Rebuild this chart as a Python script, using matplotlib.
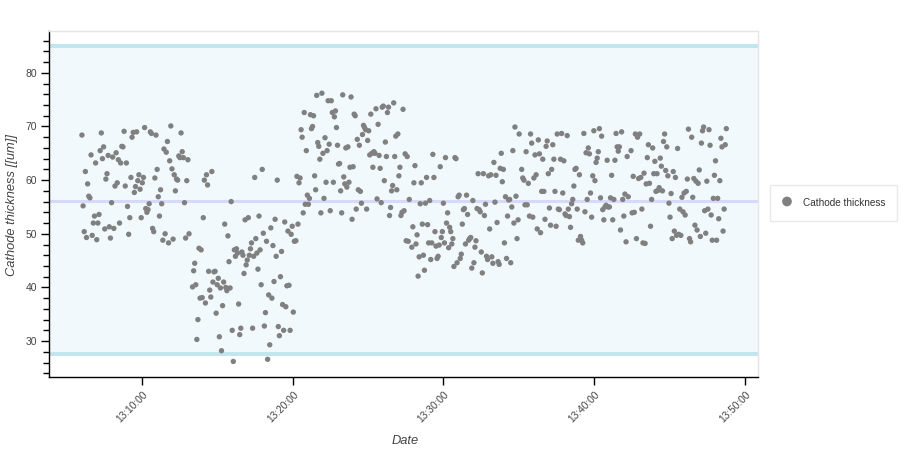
import matplotlib
matplotlib.use("Agg")
import matplotlib.pyplot as plt
import matplotlib.dates as mdates
import matplotlib.transforms as mtransforms
from matplotlib.ticker import MultipleLocator
import numpy as np
import pandas as pd

plt.rcParams['font.family'] = ['Liberation Sans', 'DejaVu Sans']

DAY = "2023-01-01 "

# Each segment: sample values, spread evenly between start and end time
segment_starts = ["13:06:02", "13:13:22", "13:20:13", "13:27:54", "13:35:11", "13:42:26"]
segment_ends = ["13:13:08", "13:20:07", "13:27:44", "13:35:01", "13:42:15", "13:48:45"]

seg1 = [68.4, 55.2, 50.4, 61.6, 49.3, 59.3, 57.0, 56.7, 64.7, 49.7, 52.0, 53.3, 63.2, 48.9, 52.0, 53.6, 65.5, 68.8,
        64.0, 66.2, 50.9, 60.2, 61.2, 64.6, 51.3, 49.2, 55.8, 64.3, 51.0, 58.9, 65.1, 59.5, 63.8, 52.0, 63.2, 66.3,
        66.2, 69.1, 58.9, 63.2, 55.1, 49.9, 53.0, 60.5, 68.0, 68.9, 57.7, 58.8, 69.0, 59.9, 61.0, 58.3, 53.0, 59.5,
        60.5, 69.8, 54.7, 54.0, 54.5, 55.6, 69.0, 68.7, 51.0, 50.4, 60.4, 68.4, 62.0, 56.9, 53.3, 58.2, 55.6, 48.8,
        65.8, 50.0, 65.2, 67.2, 48.3, 63.6, 70.1, 62.1, 49.0, 61.0, 58.0, 60.2, 60.0, 64.5, 64.2, 68.8, 65.3, 64.2,
        55.8, 49.2, 59.9, 63.8, 50.0]
seg2 = [40.1, 43.1, 44.5, 40.5, 30.3, 34.0, 47.3, 38.0, 47.0, 38.1, 53.0, 60.0, 37.1, 61.0, 59.1, 43.0, 39.5, 38.2,
        61.6, 41.0, 42.9, 43.0, 35.2, 40.5, 41.7, 30.8, 39.9, 28.2, 36.6, 41.0, 51.8, 40.0, 39.4, 49.6, 44.8, 39.9,
        56.0, 32.0, 26.2, 47.0, 45.8, 47.2, 46.4, 36.9, 31.2, 32.4, 46.6, 46.0, 42.6, 52.6, 44.2, 45.1, 53.0, 46.0,
        47.2, 48.3, 32.4, 45.8, 60.5, 49.1, 46.4, 43.4, 53.3, 47.0, 40.5, 62.0, 50.1, 32.8, 35.3, 48.6, 26.6, 38.6,
        29.3, 51.1, 38.0, 47.8, 41.1, 52.7, 45.8, 60.0, 32.7, 31.0, 42.0, 46.7, 36.8, 32.0, 52.2, 36.4, 40.3, 50.5,
        40.4, 32.0, 49.9, 51.4, 35.4, 48.6]
seg3 = [48.7, 60.7, 51.8, 59.5, 60.4, 69.4, 68.0, 53.9, 72.6, 55.5, 65.5, 57.2, 55.5, 56.6, 72.2, 69.6, 70.0, 72.0,
        60.8, 58.2, 75.8, 67.0, 66.3, 63.9, 53.9, 76.2, 65.0, 56.6, 67.9, 59.6, 65.5, 74.8, 66.7, 54.3, 74.8, 72.6,
        59.6, 71.8, 72.9, 69.8, 66.5, 63.0, 63.1, 58.0, 53.9, 75.9, 60.6, 59.3, 66.0, 58.7, 66.2, 59.6, 62.4, 75.5,
        52.7, 62.5, 72.3, 72.0, 54.6, 67.6, 58.2, 66.5, 57.9, 55.7, 68.5, 70.2, 69.8, 69.4, 54.6, 67.4, 69.2, 64.7,
        72.3, 65.0, 62.4, 65.3, 65.0, 73.3, 56.5, 70.4, 64.6, 62.2, 55.8, 73.6, 73.8, 59.9, 67.1, 64.4, 72.6, 73.6,
        53.4, 54.9, 58.0, 59.0, 74.4, 64.4, 68.2, 58.2, 68.6, 60.8, 62.4, 53.4, 54.0, 73.2, 54.3, 64.9, 48.7, 64.4,
        48.6, 56.4]
seg4 = [47.5, 51.3, 59.5, 62.7, 48.1, 49.8, 42.1, 45.7, 55.6, 59.5, 51.8, 46.0, 43.2, 55.7, 60.5, 51.7, 48.3, 56.2,
        45.2, 48.3, 64.8, 60.5, 50.4, 47.7, 45.4, 45.8, 47.9, 62.5, 49.3, 50.4, 55.7, 48.3, 64.2, 52.0, 53.9, 47.4,
        51.2, 50.4, 48.1, 49.1, 43.9, 64.2, 64.0, 44.6, 56.9, 57.2, 45.4, 46.2, 51.8, 54.5, 54.7, 48.1, 57.2, 53.6,
        48.8, 49.1, 49.3, 43.6, 56.2, 44.6, 47.5, 48.7, 54.7, 61.2, 54.5, 54.1, 46.6, 42.7, 61.2, 53.4, 55.5, 45.8,
        45.2, 60.8, 50.9, 61.0, 45.7, 44.5, 63.3, 55.9, 60.9, 52.1, 44.8, 44.3, 62.2, 65.0, 59.7, 62.0, 48.3, 56.9,
        45.4, 53.3, 56.3, 56.4, 44.6, 55.0, 65.5, 52.0, 69.9, 57.0, 49.1, 52.6, 68.6]
seg5 = [62.0, 60.4, 60.0, 55.4, 65.3, 55.4, 59.4, 53.3, 68.6, 66.9, 53.1, 60.4, 64.7, 61.0, 50.9, 67.5, 64.9, 50.2,
        57.9, 63.9, 57.9, 52.7, 66.3, 67.3, 61.2, 54.8, 51.6, 62.0, 66.6, 63.9, 57.9, 51.4, 68.6, 54.6, 54.5, 63.9,
        68.7, 57.6, 63.6, 53.7, 53.4, 68.3, 54.6, 53.2, 51.2, 55.6, 56.4, 58.9, 62.0, 62.2, 54.6, 48.8, 61.0, 49.5,
        48.8, 48.3, 68.7, 54.1, 65.1, 56.4, 66.0, 64.9, 57.6, 53.1, 60.8, 69.2, 59.9, 63.3, 64.1, 65.3, 69.6, 56.7,
        68.2, 54.5, 52.6, 55.0, 55.3, 63.7, 55.0, 55.0, 56.7, 60.9, 52.6, 56.4, 63.7, 68.7, 66.2, 65.4, 66.2, 50.7,
        69.0, 56.4, 53.3, 57.4, 48.5, 64.4, 56.9]
seg6 = [65.5, 53.9, 60.7, 54.0, 68.6, 49.1, 68.0, 60.3, 68.6, 60.5, 54.6, 48.3, 61.3, 48.2, 59.3, 64.2, 66.6, 59.4,
        51.4, 56.4, 66.0, 61.2, 63.5, 57.9, 61.2, 58.1, 58.6, 64.1, 62.6, 58.0, 67.2, 68.6, 61.8, 66.2, 60.8, 55.7,
        53.1, 57.5, 49.1, 61.6, 50.5, 60.5, 49.7, 65.9, 49.9, 54.6, 49.7, 56.8, 54.1, 57.6, 53.5, 57.9, 60.2, 69.5,
        49.1, 48.5, 68.0, 56.8, 60.3, 51.6, 59.8, 50.7, 59.4, 61.9, 49.5, 66.9, 69.2, 69.9, 54.3, 50.1, 59.8, 54.6,
        69.4, 66.5, 53.5, 48.8, 56.6, 60.9, 63.6, 48.8, 56.6, 52.8, 59.9, 67.8, 66.2, 50.5, 54.6, 66.6, 69.6]

upper_limit = 85.0
lower_limit = 27.5
center_line = 56.2

x_tick_labels = ["13:10:00", "13:20:00", "13:30:00", "13:40:00", "13:50:00"]
y_ticks = [30, 40, 50, 60, 70, 80]
x_range = ["13:03:49", "13:50:51"]
y_range = [23.3, 87.8]

series_name = "Cathode thickness"
y_label = "Cathode thickness [[um]]"
x_label = "Date"

segments = [seg1, seg2, seg3, seg4, seg5, seg6]
times = []
values = []
for s, e, vals in zip(segment_starts, segment_ends, segments):
    times.extend(pd.date_range(DAY + s, DAY + e, periods=len(vals)).to_pydatetime())
    values.extend(vals)

W, H = 905, 453
fig = plt.figure(figsize=(W / 100, H / 100), dpi=100)
L, R, T, B = 48.5, 758, 31, 377
ax = fig.add_axes([L / W, 1 - B / H, (R - L) / W, (B - T) / H])

ax.axhspan(lower_limit, upper_limit, color="#f1f9fc", lw=0, zorder=0)
ax.axhline(upper_limit, color="#c2e6ee", lw=2.9, zorder=1)
ax.axhline(lower_limit, color="#c2e6ee", lw=2.9, zorder=1)
ax.axhline(center_line, color="#d8d8f8", lw=2.2, zorder=1)

ax.scatter(times, values, s=15, color="#808080", edgecolors="none", zorder=3, label=series_name)

ax.set_xlim(pd.Timestamp(DAY + x_range[0]), pd.Timestamp(DAY + x_range[1]))
ax.set_ylim(*y_range)

xt = [pd.Timestamp(DAY + t) for t in x_tick_labels]
ax.set_xticks(mdates.date2num(xt))
ax.set_xticklabels(x_tick_labels)
ax.set_yticks(y_ticks)
ax.yaxis.set_minor_locator(MultipleLocator(2))

for side in ["top", "right"]:
    ax.spines[side].set_color("#e5e5e5")
    ax.spines[side].set_linewidth(1)
for side in ["left", "bottom"]:
    ax.spines[side].set_color("black")
    ax.spines[side].set_linewidth(1)

ax.tick_params(axis="y", which="major", length=6, width=1, labelsize=7.5, labelcolor="#444444", pad=2)
ax.tick_params(axis="y", which="minor", length=4, width=1)
ax.tick_params(axis="x", which="major", length=6, width=1, labelsize=7.3, labelcolor="#444444", pad=2)
offset = mtransforms.ScaledTranslation(4 / 100, -5 / 100, fig.dpi_scale_trans)
for lbl in ax.get_xticklabels():
    lbl.set_rotation(45)
    lbl.set_ha("right")
    lbl.set_va("center")
    lbl.set_rotation_mode("anchor")
    lbl.set_transform(lbl.get_transform() + offset)

fig.text(12 / W, 1 - 205 / H, y_label, rotation=90, ha="center", va="center",
         fontsize=9.3, style="italic", color="#444444")
fig.text(405 / W, 1 - 441 / H, x_label, ha="center", va="center",
         fontsize=9.3, style="italic", color="#444444")

leg = ax.legend(loc="center left", bbox_to_anchor=(770 / W, 1 - 203 / H), bbox_transform=fig.transFigure,
                frameon=True, fancybox=False, edgecolor="#e5e5e5", fontsize=7.2, borderpad=1.2,
                handlelength=1.0, handleheight=1.6, handletextpad=1.1, markerscale=1.8, borderaxespad=0)
leg.get_frame().set_linewidth(1)
for t in leg.get_texts():
    t.set_color("#333333")

fig.savefig("out.png", dpi=100)
